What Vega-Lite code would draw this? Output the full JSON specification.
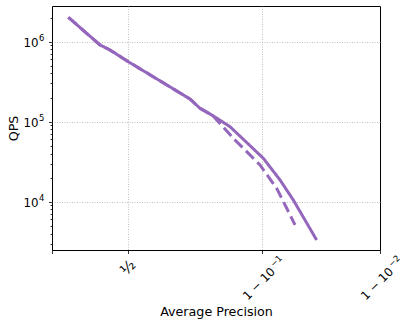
{
  "$schema": "https://vega.github.io/schema/vega-lite/v6.json",
  "width": 328,
  "height": 244,
  "autosize": "none",
  "padding": {"left": 52, "top": 6, "right": 30, "bottom": 77},
  "config": {
    "font": "DejaVu Sans",
    "view": {"stroke": "#000000", "strokeWidth": 1}
  },
  "data": {
    "values": [
      {"series": "solid", "one_minus_ap": 0.8709, "qps": 2018000},
      {"series": "solid", "one_minus_ap": 0.6559, "qps": 910000},
      {"series": "solid", "one_minus_ap": 0.5972, "qps": 787000},
      {"series": "solid", "one_minus_ap": 0.5001, "qps": 562000},
      {"series": "solid", "one_minus_ap": 0.2575, "qps": 192000},
      {"series": "solid", "one_minus_ap": 0.2286, "qps": 147000},
      {"series": "solid", "one_minus_ap": 0.1941, "qps": 118000},
      {"series": "solid", "one_minus_ap": 0.1565, "qps": 86600},
      {"series": "solid", "one_minus_ap": 0.0980, "qps": 34900},
      {"series": "solid", "one_minus_ap": 0.0758, "qps": 18700},
      {"series": "solid", "one_minus_ap": 0.0610, "qps": 10500},
      {"series": "solid", "one_minus_ap": 0.0404, "qps": 3320},
      {"series": "dashed", "one_minus_ap": 0.8709, "qps": 2018000},
      {"series": "dashed", "one_minus_ap": 0.6559, "qps": 910000},
      {"series": "dashed", "one_minus_ap": 0.5972, "qps": 787000},
      {"series": "dashed", "one_minus_ap": 0.5001, "qps": 562000},
      {"series": "dashed", "one_minus_ap": 0.2575, "qps": 192000},
      {"series": "dashed", "one_minus_ap": 0.2286, "qps": 147000},
      {"series": "dashed", "one_minus_ap": 0.1941, "qps": 118000},
      {"series": "dashed", "one_minus_ap": 0.1859, "qps": 105000},
      {"series": "dashed", "one_minus_ap": 0.1464, "qps": 59100},
      {"series": "dashed", "one_minus_ap": 0.1029, "qps": 28800},
      {"series": "dashed", "one_minus_ap": 0.0799, "qps": 14700},
      {"series": "dashed", "one_minus_ap": 0.0680, "qps": 8270},
      {"series": "dashed", "one_minus_ap": 0.0593, "qps": 5120}
    ]
  },
  "layer": [
    {
      "mark": {"type": "line", "color": "#9467bd", "strokeWidth": 3, "clip": true},
      "encoding": {
        "x": {
          "field": "one_minus_ap",
          "type": "quantitative",
          "scale": {"type": "pow", "exponent": 0.25, "domain": [0.01, 1], "reverse": true, "zero": false, "nice": false},
          "axis": {
            "title": "Average Precision",
            "titleFont": "DejaVu Sans",
            "titleFontSize": 12.7,
            "titleFontWeight": "normal",
            "titleColor": "#000000",
            "titleBaseline": "alphabetic",
            "titleY": 65,
            "values": [1, 0.5, 0.1, 0.01],
            "labelExpr": "datum.value == 0.5 ? '½' : (datum.value == 0.1 || datum.value == 0.01 ? '1 − 10' : '')",
            "labelAngle": -45,
            "labelAlign": "center",
            "labelBaseline": "middle",
            "labelFontSize": {"condition": {"test": "datum.value == 0.5", "value": 15}, "value": 11.8},
            "labelColor": "#000000",
            "labelOverlap": false,
            "labelBound": false,
            "labelFlush": false,
            "labelOffset": {"condition": {"test": "datum.value == 0.5", "value": -1}, "value": -3.5},
            "labelPadding": {"condition": {"test": "datum.value == 0.5", "value": 13.5}, "value": 29.7},
            "tickSize": 3.5,
            "tickColor": "#000000",
            "tickWidth": 0.8,
            "domain": false,
            "grid": true,
            "gridColor": "#b0b0b0",
            "gridWidth": 0.8,
            "gridDash": [1, 1.5],
            "gridOpacity": {"condition": {"test": "datum.value == 0.5 || datum.value == 0.1", "value": 1}, "value": 0}
          }
        },
        "y": {
          "field": "qps",
          "type": "quantitative",
          "scale": {"type": "log", "domain": [2490, 2790000], "nice": false},
          "axis": {
            "title": "QPS",
            "titleFont": "DejaVu Sans",
            "titleFontSize": 12.7,
            "titleFontWeight": "normal",
            "titleColor": "#000000",
            "titleBaseline": "alphabetic",
            "titleX": -35,
            "values": [3000, 4000, 5000, 6000, 7000, 8000, 9000, 10000, 20000, 30000, 40000, 50000, 60000, 70000, 80000, 90000, 100000, 200000, 300000, 400000, 500000, 600000, 700000, 800000, 900000, 1000000, 2000000],
            "labelExpr": "datum.value == 10000 || datum.value == 100000 || datum.value == 1000000 ? '10' : ''",
            "labelFontSize": 11.8,
            "labelColor": "#000000",
            "labelOverlap": false,
            "labelBaseline": "middle",
            "labelOffset": 1,
            "labelPadding": 10.5,
            "tickSize": {"condition": {"test": "datum.value == 10000 || datum.value == 100000 || datum.value == 1000000", "value": 3.5}, "value": 2},
            "tickColor": "#000000",
            "tickWidth": 0.8,
            "domain": false,
            "grid": true,
            "gridColor": "#b0b0b0",
            "gridWidth": 0.8,
            "gridDash": [1, 1.5],
            "gridOpacity": {"condition": {"test": "datum.value == 10000 || datum.value == 100000 || datum.value == 1000000", "value": 1}, "value": 0}
          }
        },
        "strokeDash": {
          "field": "series",
          "type": "nominal",
          "scale": {"domain": ["solid", "dashed"], "range": [[1, 0], [11, 5]]},
          "legend": null
        }
      }
    },
    {
      "mark": {"type": "line", "strokeOpacity": 0, "clip": true},
      "encoding": {
        "x": {
          "field": "one_minus_ap",
          "type": "quantitative",
          "axis": {
            "orient": "bottom",
            "title": null,
            "values": [0.1, 0.01],
            "labelExpr": "datum.value == 0.1 ? '−1' : '−2'",
            "labelAngle": -45,
            "labelAlign": "left",
            "labelBaseline": "middle",
            "labelFontSize": 8.5,
            "labelColor": "#000000",
            "labelOverlap": false,
            "labelBound": false,
            "labelFlush": false,
            "labelOffset": 9.2,
            "labelPadding": 11.3,
            "tickSize": 3.5,
            "tickColor": "transparent",
            "domain": false,
            "grid": false
          }
        },
        "y": {
          "field": "qps",
          "type": "quantitative",
          "axis": {
            "orient": "left",
            "title": null,
            "values": [10000, 100000, 1000000],
            "labelExpr": "datum.value == 10000 ? '4' : (datum.value == 100000 ? '5' : '6')",
            "labelFontSize": 8.5,
            "labelColor": "#000000",
            "labelOverlap": false,
            "labelBaseline": "middle",
            "labelOffset": -4,
            "labelPadding": 4.5,
            "tickSize": 3.5,
            "tickColor": "transparent",
            "domain": false,
            "grid": false
          }
        },
        "detail": {"field": "series", "type": "nominal"}
      }
    }
  ],
  "resolve": {"axis": {"x": "independent", "y": "independent"}}
}
